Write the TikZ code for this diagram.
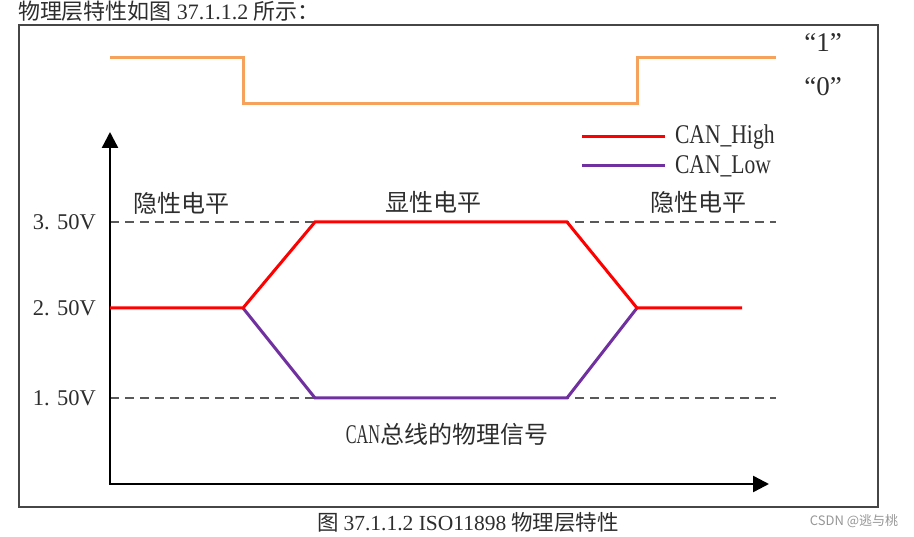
\documentclass[tikz,border=0pt]{standalone}
\usepackage{fontspec}
\setmainfont{Liberation Serif}
\newfontfamily\cjk{Noto Sans CJK SC}
\newfontfamily\narrowf[FakeStretch=0.8]{Liberation Serif}
\newfontfamily\narrowerf[FakeStretch=0.6]{Liberation Serif}
\usetikzlibrary{arrows.meta}
\definecolor{sigorange}{RGB}{247,162,92}
\definecolor{canred}{RGB}{255,0,0}
\definecolor{canpurple}{RGB}{112,48,160}
\definecolor{txt}{RGB}{45,45,45}
\definecolor{framecol}{RGB}{70,70,70}
\definecolor{wmgray}{RGB}{150,150,150}
\begin{document}
\begin{tikzpicture}[x=1pt,y=-1pt,
  frame/.style={draw=framecol,line width=1.2pt},
  axis/.style={draw=black,line width=2.4pt,-{Triangle[length=16pt,width=16pt]}},
  level/.style={draw=black!65,line width=1.5pt,dash pattern=on 9pt off 6pt},
  sig/.style={line width=3pt,line join=miter},
  lab/.style={text=txt,inner sep=0pt,outer sep=0pt},
  cjklab/.style={lab,font=\cjk\fontsize{24}{25}\selectfont},
  vlab/.style={lab,anchor=east,font=\fontsize{22.5}{24}\selectfont},
  leglab/.style={lab,anchor=west,font=\narrowf\fontsize{27}{28}\selectfont},
  bitlab/.style={lab,font=\fontsize{27}{28}\selectfont}]
\path[use as bounding box] (0,0) rectangle (914,537);

% heading text
\node[lab,anchor=west] (head) at (18,11)
  {\cjk\fontsize{22}{23}\selectfont 物理层特性如图 {\rmfamily 37.1.1.2} 所示：};

% frame
\draw[frame] (19,25) rectangle (878,507);

% logic level signal
\coordinate (o1) at (110,57.5);
\coordinate (o2) at (243,57.5);
\coordinate (o3) at (243,104);
\coordinate (o4) at (637,104);
\coordinate (o5) at (637,57.5);
\coordinate (o6) at (776,57.5);
\draw[sig,sigorange] (o1) -- (o2) -- (o3) -- (o4) -- (o5) -- (o6);
\node[bitlab] (one) at (823,43) {“1”};
\node[bitlab] (zero) at (823,87) {“0”};

% level lines
\coordinate (h0) at (110,222);
\coordinate (h1) at (776,222);
\coordinate (l0) at (110,398);
\coordinate (l1) at (776,398);
\draw[level] (h0) -- (h1);
\draw[level] (l0) -- (l1);

% axes
\coordinate (orig) at (110,484);
\coordinate (ytop) at (110,132);
\coordinate (xend) at (769,484);
\draw[axis] ([yshift=1.2pt]orig) -- (ytop);
\draw[axis] ([xshift=-1.2pt]orig) -- (xend);

% axis labels
\node[vlab] (v35) at (96,222) {3. 50V};
\node[vlab] (v25) at (96,308) {2. 50V};
\node[vlab] (v15) at (96,398) {1. 50V};

% CAN signals
\coordinate (r1) at (110,308);
\coordinate (r2) at (243,308);
\coordinate (r3) at (315,222);
\coordinate (r4) at (567,222);
\coordinate (r5) at (637,308);
\coordinate (r6) at (742,308);
\coordinate (p3) at (315,398);
\coordinate (p4) at (567,398);
\draw[sig,canpurple] (r2) -- (p3) -- (p4) -- (r5);
\draw[sig,canred] (r1) -- (r2) -- (r3) -- (r4) -- (r5) -- (r6);

% legend
\coordinate (lg1a) at (582,137);
\coordinate (lg1b) at (665,137);
\coordinate (lg2a) at (582,166);
\coordinate (lg2b) at (665,166);
\draw[sig,canred] (lg1a) -- (lg1b);
\draw[sig,canpurple] (lg2a) -- (lg2b);
\node[leglab] (lgh) at (675,137) {CAN\_High};
\node[leglab] (lgl) at (675,166) {CAN\_Low};

% region labels
\node[cjklab] (rec1) at (181,203) {隐性电平};
\node[cjklab] (dom) at (433,202) {显性电平};
\node[cjklab] (rec2) at (698,202) {隐性电平};
\node[cjklab] (title) at (447,434) {{\narrowerf\fontsize{27}{27}\selectfont CAN}总线的物理信号};

% caption
\node[lab] (cap) at (468,522)
  {\cjk\fontsize{21.5}{22}\selectfont 图 {\rmfamily 37.1.1.2 ISO11898} 物理层特性};

% watermark
\node[inner sep=0pt,text=wmgray,font=\cjk\fontsize{13}{14}\selectfont] (wm) at (854,521) {CSDN @逃与桃};
\end{tikzpicture}
\end{document}
